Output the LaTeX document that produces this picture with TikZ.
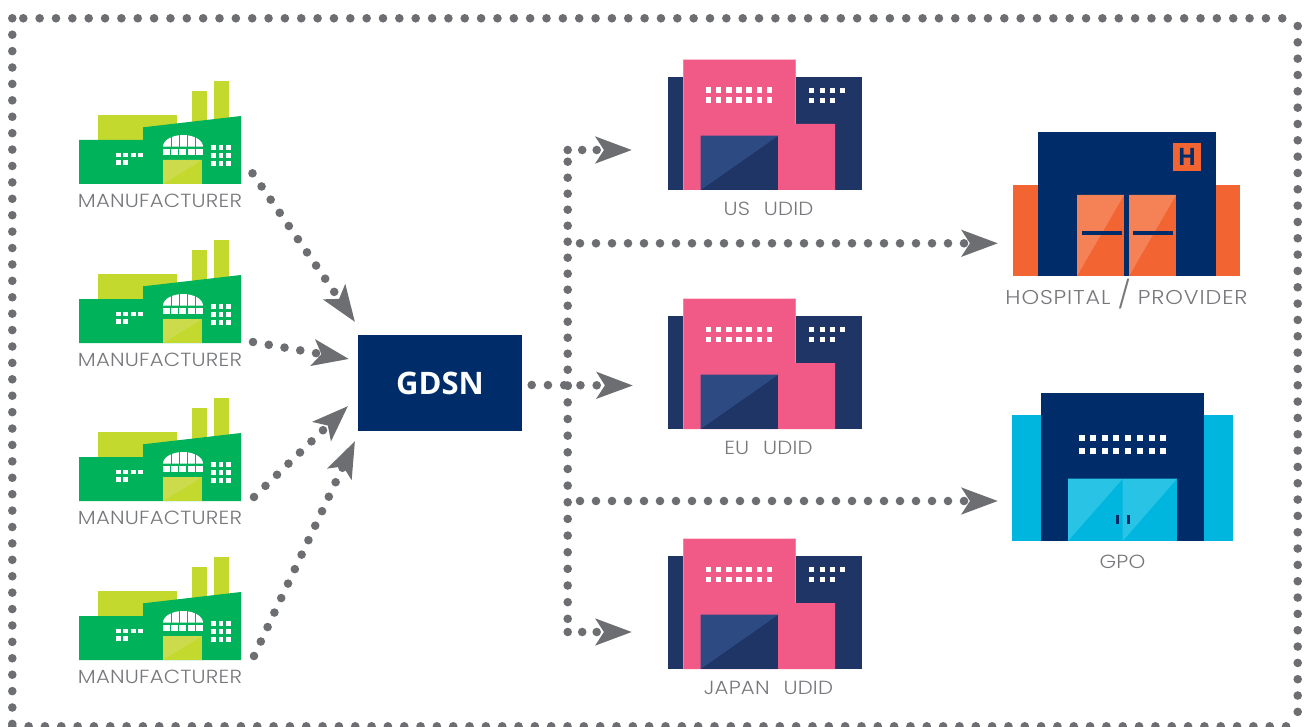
\documentclass[tikz,border=0pt]{standalone}
\usepackage{fontspec}
\usetikzlibrary{arrows.meta}
\setmainfont{Open Sans}
\newfontfamily\labelfont[FakeStretch=1.12,LetterSpace=1,WordSpace=2.3]{Poppins Light}
\newfontfamily\hospfont[FakeStretch=1.12,LetterSpace=4.3]{Poppins Light}

\definecolor{linegray}{HTML}{6D6E71}
\definecolor{textgray}{HTML}{77787B}
\definecolor{gdsnblue}{HTML}{002D6A}
\definecolor{udidblue}{HTML}{1F3566}
\definecolor{udiddoor}{HTML}{2D4A82}
\definecolor{udidpink}{HTML}{F15A87}
\definecolor{makergreen}{HTML}{00B259}
\definecolor{makerlime}{HTML}{C4D92E}
\definecolor{doorlime}{HTML}{CBDB4C}
\definecolor{hosporange}{HTML}{F26533}
\definecolor{doororange}{HTML}{F58257}
\definecolor{gpocyan}{HTML}{00B6DE}
\definecolor{doorcyan}{HTML}{29C3E5}

\tikzset{
  dotlink/.style={draw=linegray,line width=8.6pt,line cap=round,dash pattern=on 0pt off #1},
  dotlink/.default=16pt,
  headlink/.style={dotlink=#1,-{Stealth[length=36pt,width=26pt,inset=8pt]}},
  headlink/.default=16pt,
  caption/.style={text=textgray,inner sep=0pt,font=\labelfont\fontsize{19}{21}\selectfont}
}

% square window, centred
\newcommand{\Pane}[3]{\fill[white] ({#1-#3/2},{#2-#3/2}) rectangle +(#3,#3)}

\newcommand{\FactoryIcon}[1]{
  \begin{scope}[shift={(0,#1)}]
    \fill[makerlime] (98,115) rectangle (177,142);
    \fill[makerlime] (192,91) rectangle (207,125);
    \fill[makerlime] (214,81) rectangle (229,122);
    \fill[makergreen] (79,140) -- (143,140) -- (143,127.3) -- (241,116) -- (241,184) -- (79,184) -- cycle;
    \fill[white] (163,146.7) arc [x radius=20,y radius=11.7,start angle=180,end angle=360] -- cycle;
    \foreach \x in {170.5,178.5,186.5,194.5} \fill[makergreen] (\x,134) rectangle +(1.4,13);
    \foreach \x in {163,171.2,179.4,187.6,195.8} \fill[white] (\x,149) rectangle +(7,6);
    \fill[makerlime] (163,160) rectangle (202,184);
    \fill[doorlime] (163,184) -- (163,160) -- (202,160) -- cycle;
    \foreach \x in {118.3,125.6,133.3,140.6} \Pane{\x}{155}{4.6};
    \foreach \x in {118.3,125.6} \Pane{\x}{162.3}{4.6};
    \foreach \x in {213.3,221,228.3} \foreach \y in {147.6,155.3,163.3} \Pane{\x}{\y}{4.6};
  \end{scope}
}

\newcommand{\UdidIcon}[1]{
  \begin{scope}[shift={(0,#1)}]
    \fill[udidblue] (668,76.7) rectangle (862.3,190);
    \draw[draw=udidpink!30,line width=1.4pt] (683.3,190) -- (683.3,60) -- (795.7,60) -- (795.7,124);
    \fill[udidpink] (683.3,60) -- (795.7,60) -- (795.7,124) -- (835,124) -- (835,190) -- (683.3,190) -- cycle;
    \fill[udidblue] (700.7,135.7) rectangle (778.3,190);
    \fill[udiddoor] (700.7,190) -- (700.7,135.7) -- (778.3,135.7) -- cycle;
    \foreach \x in {708.3,718.5,728.7,738.9,749.1,759.3,769.5} \foreach \y in {90.3,100.3} \Pane{\x}{\y}{5.6};
    \foreach \x in {811.7,822.3,832.7,842.3} \Pane{\x}{90.3}{5};
    \foreach \x in {811.7,822.3,832.7} \Pane{\x}{100.3}{5};
  \end{scope}
}

\begin{document}
\begin{tikzpicture}[x=1pt,y=-1pt]
  \useasboundingbox (0,0) rectangle (1305,727);

  %Frame
  \coordinate (FrameTL) at (12.3,18.3);
  \coordinate (FrameTN) at (23.3,18.3);
  \coordinate (FrameTR) at (1298,18.3);
  \coordinate (FrameRN) at (1297.7,26);
  \coordinate (FrameBR) at (1297.7,726.3);
  \coordinate (FrameBL) at (12.3,726.3);
  \coordinate (FrameBE) at (1298,726.3);
  \draw[dotlink=16.35pt] (FrameTN) -- (FrameTR);
  \draw[dotlink=16.41pt] (FrameTL) -- (FrameBL);
  \draw[dotlink=16.33pt] (FrameRN) -- (FrameBR);
  \draw[dotlink=16.33pt] (FrameBL) -- (FrameBE);

  %Manufacturers
  \foreach \n/\v in {1/0,2/159,3/317,4/476} {
    \FactoryIcon{\v}
    \node[caption] (MakerName\n) at (160,{201+\v}) {MANUFACTURER};
  }

  %Databases
  \UdidIcon{0}
  \UdidIcon{239}
  \UdidIcon{479}
  \node[caption] (UsName) at (768.5,209) {US UDID};
  \node[caption] (EuName) at (768.5,448) {EU UDID};
  \node[caption] (JapanName) at (768.5,688) {JAPAN UDID};

  %Hospital
  \fill[hosporange] (1013,185) rectangle (1240,276);
  \fill[gdsnblue] (1038,132) rectangle (1216,276);
  \foreach \x in {1077,1129} {
    \fill[hosporange] (\x,195) rectangle +(47,81);
    \fill[doororange] (\x,276) -- (\x,195) -- +(47,0) -- cycle;
  }
  \fill[gdsnblue] (1082,231) rectangle (1122,235);
  \fill[gdsnblue] (1133,231) rectangle (1173,235);
  \node[fill=hosporange,text=gdsnblue,minimum size=28pt,inner sep=0pt,font=\bfseries\fontsize{24}{24}\selectfont] (HospBadge) at (1187,157) {H};
  \node[caption,font=\hospfont\fontsize{20}{22}\selectfont] (HospName) at (1126.5,294.5) {HOSPITAL {\fontsize{27}{27}\selectfont/} PROVIDER};

  %GPO
  \fill[gpocyan] (1012,415) rectangle (1233,541);
  \fill[gdsnblue] (1041,393) rectangle (1204,541);
  \fill[gpocyan] (1068,478.7) rectangle (1177,541);
  \fill[doorcyan] (1068,541) -- (1068,478.7) -- (1122.7,478.7) -- cycle;
  \fill[doorcyan] (1122.7,541) -- (1122.7,478.7) -- (1177,478.7) -- cycle;
  \fill[gdsnblue] (1116,515) rectangle (1119,524);
  \fill[gdsnblue] (1127,515) rectangle (1130,524);
  \foreach \x in {1081.7,1093.3,1104.7,1116.3,1128.3,1140,1151.7,1163} \foreach \y in {438.3,451.3} \Pane{\x}{\y}{6};
  \node[caption] (GpoName) at (1122.5,562) {GPO};

  %GDSN
  \node[fill=gdsnblue,text=white,minimum width=164pt,minimum height=96pt,inner sep=0pt,font=\bfseries\fontsize{31}{31}\selectfont] (Gdsn) at (440,383) {\raisebox{-1.5pt}{GDSN}};

  %Ends of the links
  \foreach \n/\x/\y in {1/252.5/173.3,2/253/342,3/254/497,4/254/656} \coordinate (Maker\n) at (\x,\y);
  \foreach \n/\x/\y in {1/355/322,2/349/359,3/348/406,4/355/441} \coordinate (GdsnIn\n) at (\x,\y);
  \coordinate (GdsnOut) at (531.7,385);
  \coordinate (UsStart) at (567.7,150);
  \coordinate (UsIn) at (632,150);
  \coordinate (EuIn) at (633,385.5);
  \coordinate (TrunkTop) at (567.7,161.7);
  \coordinate (TrunkMid) at (567.7,385.7);
  \coordinate (TrunkEnd) at (567.7,619);
  \coordinate (JapanStart) at (567.7,632);
  \coordinate (JapanIn) at (632,632);
  \coordinate (HospStart) at (580,243.3);
  \coordinate (HospIn) at (998,243.3);
  \coordinate (GpoStart) at (580,501);
  \coordinate (GpoIn) at (998,501);

  %Links
  \foreach \n in {1,...,4} \draw[headlink] (Maker\n) -- (GdsnIn\n);
  \draw[headlink=16.25pt] (GdsnOut) -- (EuIn);
  \draw[dotlink] (TrunkTop) -- (TrunkMid);
  \draw[dotlink=16.65pt] (TrunkMid) -- (TrunkEnd);
  \draw[headlink=14.5pt] (UsStart) -- (UsIn);
  \draw[headlink=14.5pt] (JapanStart) -- (JapanIn);
  \draw[headlink] (HospStart) -- (HospIn);
  \draw[headlink] (GpoStart) -- (GpoIn);
\end{tikzpicture}
\end{document}
